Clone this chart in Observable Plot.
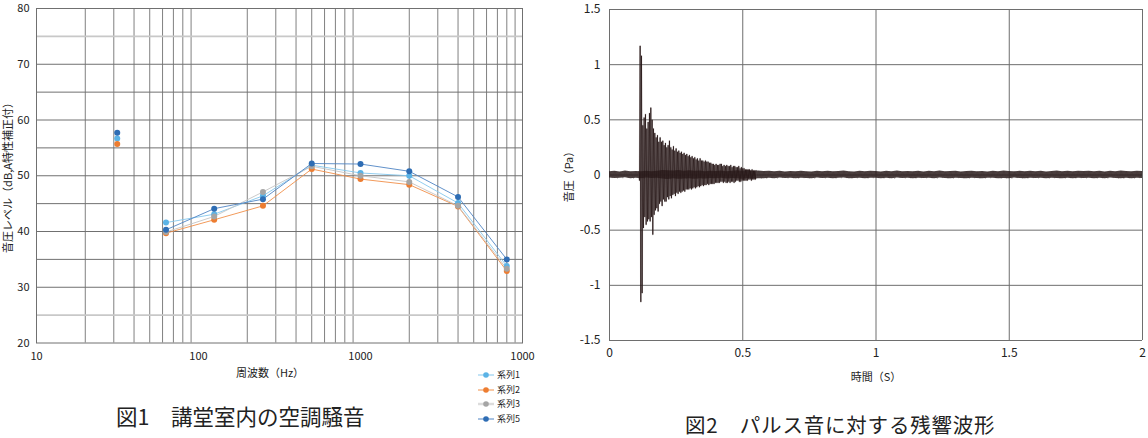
<!DOCTYPE html>
<html><head><meta charset="utf-8">
<script src="https://cdn.jsdelivr.net/npm/d3@7"></script>
<script src="https://cdn.jsdelivr.net/npm/@observablehq/plot@0.6"></script>
<style>
html,body{margin:0;padding:0;background:#fff;}
body{width:1148px;height:438px;position:relative;overflow:hidden;font-family:"Noto Sans CJK JP","Noto Sans",sans-serif;color:#222;}
.abs{position:absolute;white-space:pre;}
.ctr{transform:translate(-50%,-50%);}
.rot{transform:translate(-50%,-50%) rotate(-90deg);}
.axt{font-size:11px;line-height:14px;color:#222;}
.ttl{font-size:21.5px;line-height:20px;color:#222;}
.ttl2{font-size:20.5px;line-height:20px;letter-spacing:0.8px;color:#222;}
#legend{position:absolute;left:476px;top:368px;font-size:9px;line-height:14.5px;}
#legend .it{display:flex;align-items:center;height:14.5px;}
svg{overflow:visible;}
</style></head>
<body>
<div id="c1" class="abs" style="left:0;top:0"></div>
<div id="c2" class="abs" style="left:560px;top:0"></div>
<div class="abs axt ctr" style="left:270px;top:372px">周波数（Hz）</div>
<div class="abs axt rot" style="left:7px;top:175px">音圧レベル（dB,A特性補正付）</div>
<div class="abs axt ctr" style="left:876px;top:376px">時間（S）</div>
<div class="abs axt rot" style="left:568px;top:174px">音圧（Pa）</div>
<div class="abs ttl" style="left:116px;top:406px">図1　講堂室内の空調騒音</div>
<div class="abs ttl2" style="left:685px;top:414px">図2　パルス音に対する残響波形</div>
<div id="legend"></div>
<script>
// ---------- Figure 1 data ----------
const freqs = [31.5, 63, 125, 250, 500, 1000, 2000, 4000, 8000];
const series1 = [56.7, 41.6, 43.1, 46.4, 51.9, 50.5, 50.0, 45.1, 33.8];
const series2 = [55.7, 39.7, 42.1, 44.6, 51.2, 49.4, 48.4, 44.5, 32.9];
const series3 = [null, 39.9, 42.7, 47.1, 51.7, 50.0, 48.9, 44.6, 33.3];
const series5 = [57.7, 40.3, 44.1, 45.8, 52.2, 52.1, 50.8, 46.2, 35.0];
const seriesNames = ["系列1", "系列2", "系列3", "系列5"];
const xTickVals = [10, 100, 1000, 10000];
const xTickLabels = ["10", "100", "1000", "1000"];
const yTickVals = [20, 30, 40, 50, 60, 70, 80];
const xGridVals = [20,30,40,50,60,70,80,90,200,300,400,500,600,700,800,900,2000,3000,4000,5000,6000,7000,8000,9000];
const yGridVals = [25,30,35,40,45,50,55,60,65,70,75];

// ---------- Figure 2 data ----------
const xTicksR = [0, 0.5, 1, 1.5, 2];
const yTicksR = [-1.5, -1, -0.5, 0, 0.5, 1, 1.5];
// background noise envelope, one value every noiseStep seconds from 0 to 2 s
const noiseStep = 0.02;
const noiseHi = [0.03,0.034,0.028,0.036,0.03,0.032,0.03,0.035,0.03,0.033,
 0.04,0.038,0.036,0.04,0.035,0.038,0.033,0.036,0.03,0.034,
 0.032,0.036,0.03,0.035,0.038,0.033,0.04,0.034,0.036,0.032,
 0.035,0.03,0.034,0.028,0.032,0.03,0.035,0.03,0.028,0.033,
 0.03,0.034,0.029,0.032,0.036,0.03,0.028,0.033,0.03,0.035,
 0.031,0.028,0.034,0.03,0.036,0.029,0.032,0.03,0.035,0.028,
 0.033,0.03,0.036,0.029,0.032,0.034,0.028,0.031,0.035,0.03,
 0.032,0.028,0.034,0.03,0.036,0.031,0.029,0.033,0.03,0.035,
 0.03,0.034,0.028,0.032,0.036,0.03,0.033,0.029,0.034,0.031,
 0.035,0.03,0.033,0.028,0.034,0.03,0.036,0.031,0.029,0.034,0.032];
const noiseLo = [-0.028,-0.032,-0.03,-0.026,-0.033,-0.029,-0.034,-0.028,-0.031,-0.03,
 -0.036,-0.04,-0.034,-0.038,-0.036,-0.033,-0.038,-0.034,-0.036,-0.032,
 -0.034,-0.03,-0.036,-0.032,-0.035,-0.038,-0.032,-0.036,-0.033,-0.035,
 -0.03,-0.033,-0.028,-0.032,-0.03,-0.034,-0.029,-0.031,-0.033,-0.028,
 -0.032,-0.029,-0.034,-0.03,-0.028,-0.033,-0.031,-0.029,-0.034,-0.03,
 -0.029,-0.033,-0.03,-0.035,-0.028,-0.032,-0.03,-0.034,-0.029,-0.031,
 -0.03,-0.034,-0.028,-0.032,-0.035,-0.029,-0.031,-0.034,-0.03,-0.032,
 -0.034,-0.03,-0.029,-0.033,-0.031,-0.035,-0.028,-0.032,-0.034,-0.029,
 -0.032,-0.029,-0.035,-0.03,-0.031,-0.034,-0.029,-0.033,-0.03,-0.032,
 -0.029,-0.034,-0.03,-0.033,-0.028,-0.032,-0.035,-0.03,-0.033,-0.029,-0.031];
// reverberant burst: alternating peak values, one every burstStep seconds from burstStart
const burstStart = 0.110;
const burstStep = 0.0025;
const burstPeaks = [
 0.03,-0.05,1.17,-1.15,  1.08,-1.07,0.45,-0.48,  0.52,-0.38,0.55,-0.45,  0.42,-0.42,0.48,-0.40,
 0.56,-0.42,0.61,-0.38,  0.50,-0.54,0.42,-0.36,  0.38,-0.32,0.34,-0.30,  0.36,-0.33,0.30,-0.26,
 0.34,-0.24,0.30,-0.28,  0.31,-0.22,0.27,-0.24,  0.29,-0.24,0.25,-0.20,  0.27,-0.22,0.31,-0.19,
 0.25,-0.21,0.23,-0.18,  0.26,-0.17,0.22,-0.19,  0.24,-0.16,0.21,-0.17,  0.22,-0.15,0.20,-0.16,
 0.21,-0.15,0.19,-0.14,  0.20,-0.15,0.18,-0.13,  0.19,-0.13,0.17,-0.13,  0.18,-0.12,0.16,-0.13,
 0.17,-0.12,0.15,-0.11,  0.16,-0.12,0.14,-0.11,  0.15,-0.10,0.13,-0.11,  0.15,-0.10,0.13,-0.09,
 0.13,-0.10,0.12,-0.09,  0.13,-0.09,0.12,-0.08,  0.12,-0.09,0.11,-0.08,  0.11,-0.08,0.10,-0.08,
 0.10,-0.08,0.09,-0.07,  0.10,-0.07,0.09,-0.07,  0.09,-0.07,0.10,-0.06,  0.10,-0.06,0.08,-0.07,
 0.09,-0.06,0.08,-0.07,  0.09,-0.07,0.08,-0.06,  0.08,-0.07,0.09,-0.06,  0.07,-0.06,0.08,-0.07,
 0.08,-0.06,0.07,-0.05,  0.07,-0.05,0.08,-0.06,  0.06,-0.06,0.07,-0.05,  0.06,-0.05,0.06,-0.05,
 0.05,-0.05,0.05,-0.05,  0.05,-0.04,0.05,-0.04,  0.04,-0.05,0.05,-0.04,  0.04,-0.04,0.04,-0.04,
 0.04];

// ---------- styles ----------
const dotColors = ["#5bb3e6", "#ed7d31", "#a5a5a5", "#2e6db4"];
const lineColors = ["#84c7ed", "#f08f48", "#c4c4c4", "#4f84c4"];
const font = '"Noto Sans CJK JP","Noto Sans",sans-serif';

// ---------- Figure 1 ----------
const seriesValues = [series1, series2, series3, series5];
const seriesRows = seriesNames.map((name, s) =>
  freqs.map((f, i) => ({name, f, v: seriesValues[s][i]})).filter(d => d.v != null));

const lineMarks = seriesRows.map((rows, s) =>
  Plot.line(rows.filter(d => d.f > 40), {x: "f", y: "v", stroke: lineColors[s], strokeWidth: 0.9}));
const dotMarks = seriesRows.map((rows, s) =>
  Plot.dot(rows, {x: "f", y: "v", r: 3, fill: dotColors[s], stroke: "none"}));

const chart1 = Plot.plot({
  width: 560, height: 386,
  marginLeft: 36, marginRight: 38, marginTop: 8, marginBottom: 43.5,
  style: {fontFamily: font, fontSize: "11px", color: "#222", background: "transparent", overflow: "visible"},
  x: {type: "log", domain: [10, 10000], axis: null},
  y: {domain: [20, 80], axis: null},
  marks: [
    Plot.ruleX(xGridVals, {stroke: "#808080", strokeWidth: 1}),
    Plot.ruleY(yGridVals, {stroke: d => (d === 25 || d === 75) ? "#c8c8c8" : "#707070", strokeWidth: d => (d === 25 || d === 75) ? 1.6 : 1}),
    Plot.frame({stroke: "#707070"}),
    ...lineMarks,
    ...dotMarks,
    Plot.axisX({ticks: xTickVals, tickFormat: d => xTickLabels[xTickVals.indexOf(d)], tickSize: 0, tickPadding: 9, label: null, fill: "#222"}),
    Plot.axisY({ticks: yTickVals, tickFormat: d => String(d), tickSize: 0, tickPadding: 7, label: null, fill: "#222"})
  ]
});
document.getElementById("c1").append(chart1);

// legend
const legend = document.getElementById("legend");
seriesNames.forEach((name, s) => {
  const it = document.createElement("div");
  it.className = "it";
  const lc = s === 2 ? "#dcdcdc" : lineColors[s];
  const lw = s === 2 ? 2.5 : 1;
  it.innerHTML = `<svg width="20" height="10" style="margin-right:1px"><line x1="2" x2="18" y1="5" y2="5" stroke="${lc}" stroke-width="${lw}"/><circle cx="10" cy="5" r="2.8" fill="${dotColors[s]}"/></svg><span>${name}</span>`;
  legend.append(it);
});

// ---------- Figure 2 ----------
const noiseRows = noiseHi.map((h, i) => ({t: i * noiseStep, hi: h, lo: noiseLo[i]}));
const noiseZig = noiseRows.flatMap(d => [{t: d.t, v: d.hi}, {t: d.t + noiseStep / 2, v: d.lo}]).filter(d => d.t <= 2);
const burstRows = burstPeaks.map((v, i) => ({t: burstStart + i * burstStep, v}));

const chart2 = Plot.plot({
  width: 588, height: 385,
  marginLeft: 49, marginRight: 6, marginTop: 9, marginBottom: 45,
  style: {fontFamily: font, fontSize: "12px", color: "#222", background: "transparent", overflow: "visible"},
  x: {domain: [0, 2], axis: null},
  y: {domain: [-1.5, 1.5], axis: null},
  marks: [
    Plot.ruleX(xTicksR, {stroke: "#6e6e6e", strokeWidth: 1}),
    Plot.ruleY(yTicksR, {stroke: "#6e6e6e", strokeWidth: 1}),
    Plot.areaY(noiseRows, {x: "t", y1: "lo", y2: "hi", fill: "#2a1c1c", fillOpacity: 0.85, curve: "linear"}),
    Plot.line(noiseZig, {x: "t", y: "v", stroke: "#3a2a2a", strokeWidth: 0.6, strokeOpacity: 0.35}),
    Plot.line(burstRows, {x: "t", y: "v", stroke: "#8a7e7e", strokeWidth: 1.6, strokeOpacity: 0.35}),
    Plot.line(burstRows, {x: "t", y: "v", stroke: "#231414", strokeWidth: 0.9, strokeOpacity: 0.85}),
    Plot.axisX({ticks: xTicksR, tickFormat: d => String(d), tickSize: 0, tickPadding: 8, label: null, fill: "#222"}),
    Plot.axisY({ticks: yTicksR, tickFormat: d => String(d), tickSize: 0, tickPadding: 9, label: null, fill: "#222"})
  ]
});
document.getElementById("c2").append(chart2);
</script>
</body></html>
